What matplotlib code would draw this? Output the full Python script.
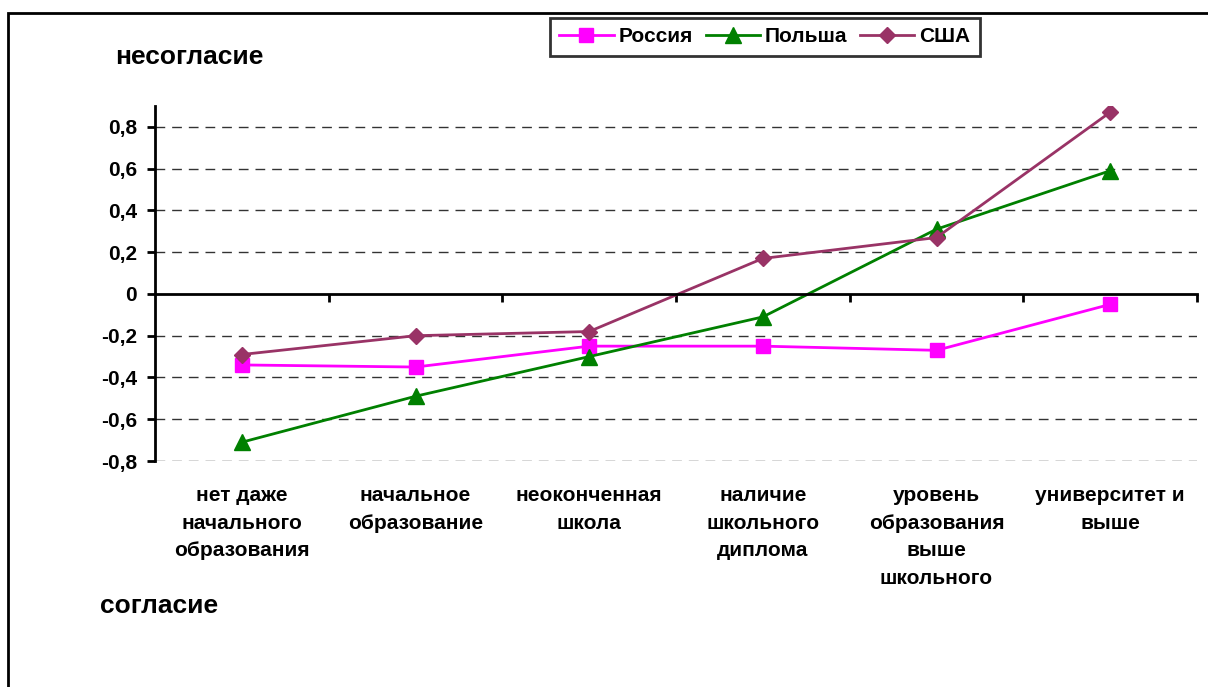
import matplotlib.pyplot as plt
from matplotlib.patches import Rectangle

plt.rcParams['font.family'] = ['Liberation Sans', 'DejaVu Sans']
plt.rcParams['font.weight'] = 'bold'

categories = ["нет даже\nначального\nобразования", "начальное\nобразование",
              "неоконченная\nшкола", "наличие\nшкольного\nдиплома",
              "уровень\nобразования\nвыше\nшкольного", "университет и\nвыше"]
russia = [-0.34, -0.35, -0.25, -0.25, -0.27, -0.05]
poland = [-0.71, -0.49, -0.30, -0.11, 0.31, 0.59]
usa = [-0.29, -0.20, -0.18, 0.17, 0.27, 0.87]
yticks = [-0.8, -0.6, -0.4, -0.2, 0, 0.2, 0.4, 0.6, 0.8]
ytick_labels = ["-0,8", "-0,6", "-0,4", "-0,2", "0", "0,2", "0,4", "0,6", "0,8"]

fig = plt.figure(figsize=(12.08, 6.87), dpi=100)
ax = fig.add_axes([155/1208, 1-461/687, (1197-155)/1208, (461-106)/687])

x = range(len(categories))
ax.plot(x, russia, color='#FF00FF', marker='s', markersize=10, lw=2, label='Россия')
ax.plot(x, poland, color='#008000', marker='^', markersize=11, lw=2, label='Польша')
ax.plot(x, usa, color='#993366', marker='D', markersize=8, lw=2, label='США')

ax.set_xlim(-0.5, 5.5)
ax.set_ylim(-0.8, 0.9)

for y in yticks:
    if y != 0:
        ax.axhline(y, color='#333333', lw=1, ls=(0, (7, 5)), zorder=0)

ax.spines['top'].set_visible(False)
ax.spines['right'].set_visible(False)
ax.spines['bottom'].set_position(('data', 0))
ax.spines['bottom'].set_linewidth(2)
ax.spines['left'].set_linewidth(2)

ax.set_yticks(yticks)
ax.set_yticklabels(ytick_labels, fontsize=15, fontweight='bold')
ax.tick_params(axis='y', length=6, width=2, pad=7)

ax.set_xticks([0.5, 1.5, 2.5, 3.5, 4.5, 5.5])
ax.set_xticklabels([])
ax.tick_params(axis='x', length=6, width=2, direction='out')

for i, lab in enumerate(categories):
    ax.text(i, -0.07, lab, transform=ax.get_xaxis_transform(), ha='center', va='top',
            fontsize=15, fontweight='bold', linespacing=1.58)

fig.text(115/1208, 1-57/687, "несогласие", fontsize=19, fontweight='bold', va='center')
fig.text(100/1208, 1-606/687, "согласие", fontsize=19, fontweight='bold', va='center')

leg = fig.legend(loc='upper left', bbox_to_anchor=(550/1208, 1-18/687), ncol=3,
                 fancybox=False, edgecolor='black', prop={'size': 15, 'weight': 'bold'},
                 handlelength=2.6, columnspacing=0.6, handletextpad=0.25, borderpad=0.45,
                 borderaxespad=0)
leg.get_frame().set_linewidth(2)

fig.patches.append(Rectangle((8/1208, -0.1), 2, 1.1 - 13/687, transform=fig.transFigure,
                             fill=False, edgecolor='black', lw=2))

fig.savefig("out.png", dpi=100)
